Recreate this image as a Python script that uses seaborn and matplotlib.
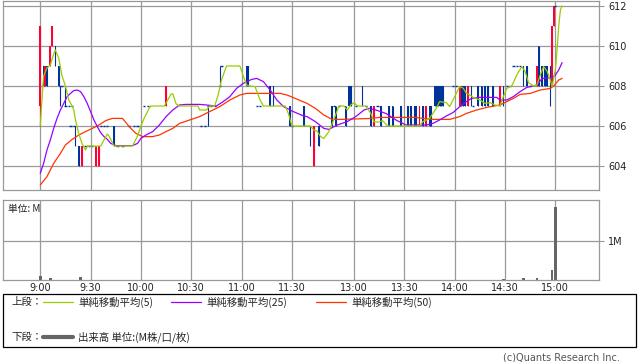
import numpy as np
import pandas as pd
import matplotlib
matplotlib.use("Agg")
import matplotlib.pyplot as plt
import seaborn as sns
from matplotlib.lines import Line2D
from matplotlib.patches import Rectangle

sns.set_style("white")
plt.rcParams['font.family'] = ['DejaVu Sans']
JP = ['Noto Sans CJK JP', 'DejaVu Sans']

# ---------------- data ----------------
candle_time = ["9:00", "9:02", "9:03", "9:04", "9:06", "9:07", "9:09", "9:11", "9:12", "9:13",
               "9:15", "9:17", "9:18", "9:19", "9:20", "9:21", "9:23", "9:25", "9:27", "9:29",
               "9:31", "9:33", "9:35", "9:36", "9:38", "9:40", "9:44", "9:46", "9:49", "9:53",
               "9:56", "9:58", "10:02", "10:04", "10:15", "10:36", "10:38", "10:40", "10:42", "10:44",
               "10:47", "10:48", "11:03", "11:04", "11:09", "11:11", "11:17", "11:19", "11:29", "11:30",
               "12:30", "12:34", "12:36", "12:39", "12:47", "12:48", "12:49", "12:51", "12:55", "12:57",
               "12:58", "13:01", "13:05", "13:07", "13:10", "13:12", "13:14", "13:16", "13:21", "13:23",
               "13:28", "13:32", "13:34", "13:36", "13:37", "13:39", "13:41", "13:43", "13:45", "13:46",
               "13:48", "13:49", "13:50", "13:51", "13:52", "13:53", "13:59", "14:01", "14:03", "14:04",
               "14:05", "14:06", "14:08", "14:10", "14:11", "14:14", "14:16", "14:18", "14:20", "14:23",
               "14:27", "14:29", "14:31", "14:33", "14:35", "14:37", "14:39", "14:41", "14:43", "14:45",
               "14:49", "14:50", "14:52", "14:54", "14:55", "14:57", "14:58", "14:59", "15:00"]
candle_open = [607, 609, 608, 609, 609, 610, 610, 609, 608, 608,
               607, 607, 606, 607, 606, 606, 605, 604, 605, 605,
               605, 604, 604, 606, 606, 606, 606, 605, 605, 606,
               606, 606, 607, 607, 607, 606, 606, 607, 607, 607,
               608, 609, 609, 609, 607, 607, 608, 608, 607, 606,
               607, 606, 604, 606, 607, 607, 607, 607, 607, 608,
               608, 607, 608, 607, 607, 606, 607, 607, 607, 607,
               607, 607, 607, 607, 607, 606, 607, 606, 607, 607,
               608, 608, 608, 608, 608, 608, 608, 608, 607, 608,
               608, 608, 607, 608, 607, 608, 608, 608, 608, 608,
               607, 608, 608, 608, 609, 609, 609, 609, 609, 608,
               608, 610, 609, 609, 609, 609, 608, 611, 612]
candle_high = [611, 609, 609, 609, 610, 611, 610, 609, 608, 608,
               608, 607, 606, 607, 606, 606, 605, 605, 605, 605,
               605, 605, 605, 606, 606, 606, 606, 605, 605, 606,
               606, 606, 607, 607, 608, 606, 606, 607, 607, 607,
               609, 609, 609, 609, 607, 607, 608, 608, 607, 606,
               607, 606, 606, 606, 607, 607, 607, 607, 607, 608,
               608, 607, 608, 607, 607, 607, 607, 607, 607, 607,
               607, 607, 607, 607, 607, 607, 607, 607, 607, 607,
               608, 608, 608, 608, 608, 608, 608, 608, 608, 608,
               608, 608, 608, 608, 607, 608, 608, 608, 608, 608,
               608, 608, 608, 608, 609, 609, 609, 609, 609, 608,
               609, 610, 609, 609, 609, 609, 611, 612, 612]
candle_low = [606, 608, 608, 608, 609, 610, 609, 608, 607, 608,
              607, 607, 606, 607, 606, 605, 604, 604, 605, 605,
              605, 604, 604, 606, 606, 606, 605, 605, 605, 606,
              606, 606, 607, 607, 607, 606, 606, 606, 607, 607,
              608, 609, 608, 608, 607, 607, 607, 607, 606, 606,
              606, 605, 604, 605, 606, 607, 606, 607, 606, 607,
              607, 607, 607, 607, 606, 606, 607, 606, 606, 606,
              606, 606, 606, 606, 606, 606, 606, 606, 606, 606,
              607, 607, 607, 607, 607, 607, 608, 608, 607, 607,
              607, 607, 607, 607, 607, 607, 607, 607, 607, 607,
              607, 607, 608, 608, 609, 609, 609, 608, 608, 608,
              608, 608, 608, 608, 608, 607, 608, 611, 612]
candle_close = [611, 608, 609, 608, 610, 611, 609, 608, 608, 608,
                607, 607, 606, 607, 606, 605, 604, 605, 605, 605,
                605, 605, 605, 606, 606, 606, 605, 605, 605, 606,
                606, 606, 607, 607, 608, 606, 606, 607, 607, 607,
                608, 609, 608, 608, 607, 607, 607, 607, 606, 606,
                606, 605, 606, 605, 606, 607, 606, 607, 606, 607,
                607, 607, 607, 607, 606, 607, 607, 606, 606, 606,
                606, 606, 606, 606, 606, 607, 606, 607, 606, 606,
                607, 607, 607, 607, 607, 607, 608, 608, 608, 607,
                607, 607, 608, 607, 607, 607, 607, 607, 607, 607,
                608, 607, 608, 608, 609, 609, 609, 608, 608, 608,
                609, 608, 608, 608, 608, 608, 611, 612, 612]

sma5_time = ["9:00", "9:01", "9:02", "9:04", "9:06", "9:08", "9:09", "9:11", "9:13", "9:15",
             "9:17", "9:19", "9:20", "9:21", "9:23", "9:25", "9:27", "9:28", "9:36", "9:38",
             "9:40", "9:41", "9:44", "9:55", "9:58", "10:00", "10:02", "10:05", "10:06", "10:14",
             "10:16", "10:18", "10:19", "10:21", "10:23", "10:34", "10:35", "10:39", "10:41", "10:44",
             "10:46", "10:48", "10:51", "10:59", "11:01", "11:03", "11:05", "11:08", "11:11", "11:13",
             "11:26", "11:28", "11:30", "12:30", "12:34", "12:36", "12:38", "12:40", "12:42", "12:45",
             "12:47", "12:49", "12:51", "12:54", "12:56", "12:58", "13:00", "13:02", "13:07", "13:10",
             "13:12", "13:15", "13:17", "13:20", "13:39", "13:41", "13:45", "13:49", "13:51", "13:55",
             "13:57", "14:00", "14:03", "14:05", "14:07", "14:09", "14:11", "14:15", "14:18", "14:21",
             "14:24", "14:27", "14:29", "14:31", "14:34", "14:37", "14:40", "14:42", "14:44", "14:47",
             "14:49", "14:51", "14:53", "14:55", "14:57", "14:58", "15:00", "15:01", "15:02", "15:03",
             "15:04"]
sma5_value = [606.0, 607.3, 608.5, 608.9, 609.05, 609.6, 609.8, 609.4, 608.5, 608.0,
              607.3, 607.0, 606.8, 606.3, 605.6, 605.1, 604.8, 605.0, 605.0, 605.3,
              605.6, 605.5, 605.0, 605.0, 605.5, 606.0, 606.4, 606.9, 607.0, 607.0,
              607.3, 607.6, 607.6, 607.1, 607.0, 607.0, 606.8, 606.8, 607.0, 607.0,
              607.55, 608.3, 609.0, 609.0, 608.5, 608.05, 608.0, 607.97, 607.3, 607.0,
              607.0, 606.6, 606.0, 606.0, 606.0, 605.8, 605.75, 605.47, 605.38, 605.72,
              606.13, 606.55, 607.0, 607.0, 606.8, 607.05, 607.17, 607.0, 607.0, 606.63,
              606.2, 606.2, 606.27, 606.0, 606.0, 606.22, 606.38, 606.88, 607.22, 607.17,
              606.97, 607.47, 607.97, 607.9, 607.63, 607.55, 607.43, 607.3, 607.13, 607.17,
              607.05, 607.0, 607.47, 607.88, 608.0, 608.55, 608.97, 608.72, 608.17, 608.0,
              608.05, 608.55, 608.97, 608.75, 608.3, 607.97, 608.8, 609.8, 611.0, 611.8,
              612.0]

sma25_time = ["9:00", "9:02", "9:04", "9:06", "9:08", "9:10", "9:12", "9:14", "9:16", "9:18",
              "9:20", "9:22", "9:24", "9:26", "9:28", "9:30", "9:32", "9:34", "9:36", "9:38",
              "9:40", "9:42", "9:45", "9:55", "9:58", "10:00", "10:03", "10:07", "10:11", "10:15",
              "10:19", "10:23", "10:27", "10:35", "10:39", "10:45", "10:49", "10:53", "10:57", "11:01",
              "11:06", "11:09", "11:13", "11:17", "11:21", "11:25", "11:29", "11:30", "12:30", "12:32",
              "12:37", "12:42", "12:45", "12:50", "12:56", "13:01", "13:06", "13:09", "13:13", "13:19",
              "13:25", "13:31", "13:43", "13:47", "13:51", "13:55", "13:59", "14:03", "14:07", "14:10",
              "14:15", "14:25", "14:27", "14:31", "14:35", "14:39", "14:43", "14:49", "14:52", "14:58",
              "15:00", "15:02", "15:04"]
sma25_value = [603.63, 604.13, 604.8, 605.3, 605.88, 606.38, 606.8, 607.13, 607.47, 607.63,
               607.77, 607.8, 607.72, 607.47, 607.13, 606.72, 606.3, 605.97, 605.67, 605.47,
               605.33, 605.13, 605.02, 605.02, 605.13, 605.38, 605.55, 605.72, 606.05, 606.47,
               606.8, 607.05, 607.08, 607.08, 607.05, 607.0, 607.22, 607.47, 607.88, 608.13,
               608.33, 608.38, 608.22, 607.8, 607.3, 606.97, 606.8, 606.75, 606.5, 606.47,
               606.22, 605.88, 605.83, 606.05, 606.22, 606.47, 606.8, 606.88, 606.8, 606.63,
               606.3, 606.05, 606.05, 606.13, 606.3, 606.5, 606.67, 606.97, 607.22, 607.38,
               607.43, 607.43, 607.3, 607.3, 607.47, 607.72, 607.93, 608.05, 608.37, 608.42,
               608.55, 608.8, 609.17]

sma50_time = ["9:00", "9:04", "9:08", "9:12", "9:15", "9:19", "9:23", "9:27", "9:31", "9:35",
              "9:39", "9:43", "9:49", "9:53", "9:57", "10:01", "10:07", "10:11", "10:15", "10:19",
              "10:23", "10:29", "10:35", "10:41", "10:47", "10:53", "10:59", "11:03", "11:23", "11:27",
              "11:30", "12:30", "12:32", "12:37", "12:42", "12:47", "12:52", "13:11", "13:15", "13:37",
              "13:39", "13:47", "13:57", "14:03", "14:07", "14:13", "14:19", "14:27", "14:31", "14:35",
              "14:39", "14:45", "14:51", "14:57", "14:59", "15:02", "15:04"]
sma50_value = [603.05, 603.47, 604.13, 604.63, 605.05, 605.33, 605.55, 605.72, 605.88, 606.05,
               606.27, 606.38, 606.38, 605.97, 605.63, 605.47, 605.47, 605.55, 605.72, 605.88,
               606.13, 606.3, 606.47, 606.72, 606.97, 607.3, 607.55, 607.63, 607.63, 607.55,
               607.45, 607.2, 607.13, 606.88, 606.55, 606.33, 606.33, 606.38, 606.43, 606.43,
               606.4, 606.33, 606.33, 606.47, 606.63, 606.8, 606.93, 607.05, 607.22, 607.38,
               607.58, 607.63, 607.8, 607.88, 608.0, 608.3, 608.38]

volume_time = ["9:00", "9:06", "9:24", "14:29", "14:41", "14:49", "14:58", "15:00"]
volume_value = [0.11, 0.05, 0.07, 0.02, 0.06, 0.05, 0.25, 1.88]

time_ticks = ["9:00", "9:30", "10:00", "10:30", "11:00", "11:30",
              "13:00", "13:30", "14:00", "14:30", "15:00"]
price_ticks = [604, 606, 608, 610, 612]

legend_labels = ["単純移動平均(5)", "単純移動平均(25)", "単純移動平均(50)"]
volume_label = "出来高 単位:(M株/口/枚)"

# ---------------- helpers ----------------
def to_slot(t):
    h, m = map(int, t.split(":"))
    mins = h * 60 + m
    if mins < 12 * 60:
        return mins - 9 * 60
    return 157 + (mins - (12 * 60 + 30))

RED = "#ff0033"
BLUE = "#003399"
C5 = "#99cc00"
C25 = "#9900ff"
C50 = "#ff3300"
GRID = "#999999"

W, H = 638, 362
fig = plt.figure(figsize=(W / 100, H / 100), dpi=100)

def fx(px):
    return px / W

def fy(py):
    return 1 - py / H

XMIN, XMAX = -22.2, 333.0
ax = fig.add_axes([fx(3), fy(190), fx(599) - fx(3), fy(1) - fy(190)])
axv = fig.add_axes([fx(3), fy(280), fx(599) - fx(3), fy(200) - fy(280)])

# candles
cx = np.array([to_slot(t) for t in candle_time], dtype=float)
o = np.array(candle_open, float)
hi = np.array(candle_high, float)
lo = np.array(candle_low, float)
c = np.array(candle_close, float)
up = c > o
dn = c < o
fl = c == o
wick_col = np.where(up, RED, BLUE)
ax.vlines(cx, lo, hi, colors=list(wick_col), lw=0.8, zorder=2)
ax.bar(cx[up], (c - o)[up], bottom=o[up], width=1.0, color=RED, linewidth=0, zorder=2)
ax.bar(cx[dn], (o - c)[dn], bottom=c[dn], width=1.0, color=BLUE, linewidth=0, zorder=2)
ax.hlines(c[fl], cx[fl] - 0.65, cx[fl] + 0.65, colors=BLUE, lw=1.0, zorder=2)

# moving averages
for tlist, vlist, col in [(sma50_time, sma50_value, C50),
                          (sma25_time, sma25_value, C25),
                          (sma5_time, sma5_value, C5)]:
    df = pd.DataFrame({"x": [to_slot(t) for t in tlist], "y": vlist})
    sns.lineplot(data=df, x="x", y="y", ax=ax, color=col, lw=0.9,
                 estimator=None, sort=False, zorder=3)

tick_slots = [to_slot(t) for t in time_ticks]
for a in (ax, axv):
    a.set_xlim(XMIN, XMAX)
    a.set_xticks(tick_slots)
    a.grid(True, color=GRID, lw=0.9)
    a.set_axisbelow(True)
    for s in a.spines.values():
        s.set_color(GRID)
        s.set_linewidth(0.9)
    a.set_xlabel("")
    a.set_ylabel("")
    a.yaxis.tick_right()
    a.tick_params(axis="y", direction="out", length=3.5, width=0.8, color=GRID,
                  labelsize=7, pad=3, labelcolor="#222222")
    a.tick_params(axis="x", length=0)

ax.set_ylim(602.8, 612.25)
ax.set_yticks(price_ticks)
ax.set_yticklabels([str(p) for p in price_ticks])
ax.set_xticklabels([])

# volume
vx = [to_slot(t) for t in volume_time]
axv.bar(vx, volume_value, width=1.5, color="#666666", linewidth=0, zorder=2)
axv.set_ylim(0, 2.05)
axv.set_yticks([1])
axv.set_yticklabels(["1M"])
axv.set_xticklabels(time_ticks, fontsize=7, color="#222222")
axv.tick_params(axis="x", pad=2)
axv.text(0.009, 0.89, "単位: M", transform=axv.transAxes, fontsize=7,
         family=JP, va="center", ha="left", color="#222222")

# legend box
fig.patches.append(Rectangle((fx(3), fy(347)), fx(636) - fx(3), fy(294) - fy(347),
                             transform=fig.transFigure, fill=False,
                             edgecolor="#000000", lw=0.9))
row1, row2 = fy(302), fy(337)
fig.text(fx(11), row1, "上段：", family=JP, fontsize=7.5, va="center", ha="left")
fig.text(fx(11), row2, "下段：", family=JP, fontsize=7.5, va="center", ha="left")
for x0, col, lab in [(43, C5, legend_labels[0]), (171, C25, legend_labels[1]),
                     (316, C50, legend_labels[2])]:
    fig.lines.append(Line2D([fx(x0), fx(x0 + 30)], [row1, row1], transform=fig.transFigure,
                            color=col, lw=0.9))
    fig.text(fx(x0 + 35), row1, lab, family=JP, fontsize=7.5, va="center", ha="left")
fig.lines.append(Line2D([fx(43), fx(73)], [row2, row2], transform=fig.transFigure,
                        color="#666666", lw=3))
fig.text(fx(78), row2, volume_label, family=JP, fontsize=7.5, va="center", ha="left")
fig.text(fx(620), fy(357), "(c)Quants Research Inc.", fontsize=7, color="#555555",
         va="center", ha="right")

fig.savefig("out.png", dpi=100, facecolor="white")
